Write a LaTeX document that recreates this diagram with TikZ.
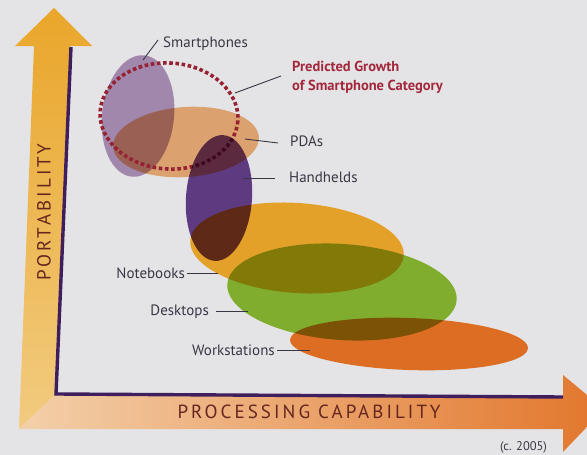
\documentclass[tikz,border=0pt]{standalone}
\usepackage{fontspec}
\setmainfont{PT Sans}
\newfontfamily\axisfont[LetterSpace=16]{PT Sans}
\definecolor{bgc}{HTML}{E4E4E6}
\definecolor{vtop}{HTML}{E9A62A}
\definecolor{vbot}{HTML}{F2CB80}
\definecolor{hleft}{HTML}{F3D0AA}
\definecolor{hmid}{HTML}{EEA062}
\definecolor{hright}{HTML}{E2762C}
\definecolor{axisc}{HTML}{3E1E5C}
\definecolor{axistxt}{HTML}{652620}
\definecolor{lbltxt}{HTML}{3A3644}
\definecolor{predred}{HTML}{A3283C}
\definecolor{dashred}{HTML}{962234}
\definecolor{smartC}{HTML}{B397BE}
\definecolor{pdaC}{HTML}{F5B67D}
\definecolor{handC}{HTML}{6A438F}
\definecolor{noteC}{HTML}{FFB52F}
\definecolor{deskC}{HTML}{91C233}
\definecolor{workC}{HTML}{F77B26}
\begin{document}
\begin{tikzpicture}[x=1pt,y=-1pt,
  blob/.style={fill=#1, blend mode=multiply},
  lbl/.style={inner sep=0pt, text height=10pt, text depth=0pt, text=lbltxt, font=\fontsize{15}{17}\selectfont},
  leader/.style={draw=lbltxt, line width=0.9pt},
  axislbl/.style={text=axistxt, font=\axisfont\fontsize{19}{22}\selectfont, inner sep=0pt}]
\useasboundingbox (0,0) rectangle (587,455);
\clip (0,0) rectangle (587,455);
\fill[bgc] (0,0) rectangle (587,455);

% portability arrow (vertical)
\shade[top color=vtop, bottom color=vbot]
  (54,8) -- (92,46) -- (70,46) -- (56,394) -- (19,429) -- (34,46) -- (15,46) -- cycle;
% processing capability arrow (horizontal)
\shade[left color=hleft, middle color=hmid, right color=hright]
  (19,429) -- (56,394) -- (563,397) -- (563,375) -- (604,409) -- (563,452) -- (563,429) -- cycle;
% axis line
\draw[axisc, line width=3.4pt, line join=miter] (71,47) -- (56,394) -- (563,397);

\node[axislbl, rotate=90] (port) at (44,212) {PORTABILITY};
\node[axislbl] (proc) at (309,411.5) {PROCESSING CAPABILITY};
\node[anchor=base, text=lbltxt, font=\fontsize{12.5}{14}\selectfont, inner sep=0pt] (year) at (523.5,450) {(c. 2005)};

% device categories
\fill[blob=smartC, rotate around={-6:(138,116)}] (138,116) ellipse [x radius=36, y radius=61];
\fill[blob=pdaC, rotate around={4:(186,142)}] (186,142) ellipse [x radius=73, y radius=35];
\draw[dashred, line width=3.6pt, dash pattern=on 3.6pt off 2.6pt, rotate around={-4:(169,116)}]
  (169,116) ellipse [x radius=69, y radius=53];
\fill[blob=handC, rotate around={-4:(219,198)}] (219,198) ellipse [x radius=33, y radius=63];
\fill[blob=noteC, rotate around={-4:(297,248)}] (297,248) ellipse [x radius=107, y radius=45];
\fill[blob=deskC, rotate around={-4:(342,292)}] (342,292) ellipse [x radius=115, y radius=48];
\fill[blob=workC, rotate around={-2:(409,344)}] (409,344) ellipse [x radius=119, y radius=26];

% anchor points on the shapes
\coordinate (smartP) at (143,60);
\coordinate (predP) at (235,93);
\coordinate (pdaP) at (245,139);
\coordinate (handP) at (243,178);
\coordinate (noteP) at (218,273);
\coordinate (deskP) at (248,311);
\coordinate (workP) at (310,350);

% labels
\node[lbl, anchor=west] (smart) at (163,42) {Smartphones};
\node[anchor=north west, inner sep=0pt, align=left, text=predred,
      font=\bfseries\fontsize{14.5}{19}\selectfont] (pred) at (292,61) {Predicted Growth\\of Smartphone Category};
\node[lbl, anchor=west] (pdas) at (290,141) {PDAs};
\node[lbl, anchor=west] (hand) at (289,177) {Handhelds};
\node[lbl, anchor=east] (note) at (185,273) {Notebooks};
\node[lbl, anchor=east] (desk) at (209,310) {Desktops};
\node[lbl, anchor=east] (work) at (275,350) {Workstations};

% leaders
\draw[leader] (smartP) -- ([xshift=-5pt, yshift=2pt]smart.west);
\draw[leader] (predP) -- ([xshift=-11pt, yshift=-15pt]pred.north west);
\draw[leader] (pdaP) -- ([xshift=-12pt, yshift=-2pt]pdas.west);
\draw[leader] (handP) -- ([xshift=-14pt, yshift=-1pt]hand.west);
\draw[leader] (noteP) -- ([xshift=2pt]note.east);
\draw[leader] (deskP) -- ([xshift=7pt, yshift=-1pt]desk.east);
\draw[leader] (workP) -- ([xshift=2pt]work.east);
\end{tikzpicture}
\end{document}
